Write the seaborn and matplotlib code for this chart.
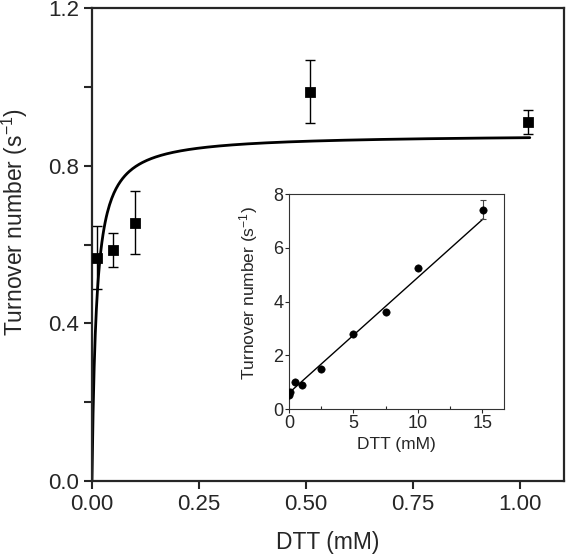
import numpy as np
import pandas as pd
import seaborn as sns
import matplotlib.pyplot as plt

# Main panel data (DTT mM vs turnover number)
dtt_main = [0.012, 0.05, 0.10, 0.51, 1.02]
turnover_main = [0.566, 0.586, 0.655, 0.987, 0.911]
err_main = [0.08, 0.042, 0.08, 0.08, 0.03]

# Michaelis-Menten fit parameters
vmax = 0.88
km = 0.0105

# Inset data
dtt_inset = [0.0, 0.1, 0.5, 1.0, 2.5, 5.0, 7.5, 10.0, 15.1]
turnover_inset = [0.53, 0.63, 0.99, 0.89, 1.48, 2.8, 3.61, 5.25, 7.42]
err_inset = [0, 0, 0, 0, 0, 0, 0, 0, 0.35]

# Linear fit of the inset
lin_intercept = 0.60
lin_slope = 0.43

sns.set_style("ticks")
plt.rcParams['font.family'] = ['Liberation Sans', 'DejaVu Sans']
plt.rcParams['mathtext.fontset'] = 'custom'
plt.rcParams['mathtext.rm'] = 'Liberation Sans'
plt.rcParams['mathtext.it'] = 'Liberation Sans:italic'

fig = plt.figure(figsize=(5.66, 5.55), dpi=100)
ax = fig.add_axes([0.1625, 0.1333, 0.834, 0.8523])

df_main = pd.DataFrame({"dtt": dtt_main, "turnover": turnover_main})
x_fit = np.linspace(0, 1.023, 400)
df_fit = pd.DataFrame({"dtt": x_fit, "turnover": vmax * x_fit / (km + x_fit)})

sns.lineplot(data=df_fit, x="dtt", y="turnover", color="black", lw=2, ax=ax)
ax.errorbar(dtt_main, turnover_main, yerr=err_main, fmt="none", ecolor="black",
            elinewidth=1, capsize=3.5, capthick=1)
sns.scatterplot(data=df_main, x="dtt", y="turnover", marker="s", s=50,
                color="black", edgecolor="black", ax=ax, zorder=5)

ax.set_xlim(0, 1.103)
ax.set_ylim(0, 1.2)
ax.set_xticks([0, 0.25, 0.5, 0.75, 1.0])
ax.set_xticklabels(["0.00", "0.25", "0.50", "0.75", "1.00"])
ax.set_yticks([0, 0.2, 0.4, 0.6, 0.8, 1.0, 1.2])
ax.set_yticklabels(["0.0", "", "0.4", "", "0.8", "", "1.2"])
ax.tick_params(labelsize=16, width=1.5, length=6, direction="out", pad=3)
for sp in ax.spines.values():
    sp.set_linewidth(1.6)
    sp.set_visible(True)
ax.set_xlabel("DTT (mM)", fontsize=16.5)
ax.xaxis.set_label_coords(0.5, -0.106)
ax.set_ylabel("Turnover number (s$^{\\mathrm{-1}}$)", fontsize=16.5)
ax.yaxis.set_label_coords(-0.132, 0.548)

# Inset
ins = fig.add_axes([0.5106, 0.263, 0.38, 0.387])
df_ins = pd.DataFrame({"dtt": dtt_inset, "turnover": turnover_inset})
x_lin = np.linspace(0, 15.1, 50)
df_lin = pd.DataFrame({"dtt": x_lin, "turnover": lin_intercept + lin_slope * x_lin})
sns.lineplot(data=df_lin, x="dtt", y="turnover", color="black", lw=1, ax=ins)
ins.errorbar(dtt_inset, turnover_inset, yerr=err_inset, fmt="none", ecolor="#444444",
             elinewidth=0.8, capsize=2.5, capthick=0.8)
sns.scatterplot(data=df_ins, x="dtt", y="turnover", marker="o", s=28,
                color="black", edgecolor="black", ax=ins, zorder=5)
ins.set_xlim(0, 16.7)
ins.set_ylim(0, 8)
ins.set_xticks([0, 5, 10, 15])
ins.set_xticks([2.5, 7.5, 12.5], minor=True)
ins.set_yticks([0, 2, 4, 6, 8])
ins.tick_params(labelsize=13, width=0.8, length=3, direction="out", pad=1)
ins.tick_params(which="minor", width=0.8, length=2, direction="in")
for sp in ins.spines.values():
    sp.set_linewidth(0.8)
    sp.set_color("#333333")
    sp.set_visible(True)
ins.set_xlabel("DTT (mM)", fontsize=12.5, labelpad=4)
ins.set_ylabel("Turnover number (s$^{\\mathrm{-1}}$)", fontsize=12.5)
ins.yaxis.set_label_coords(-0.135, 0.54)

fig.savefig("out.png", dpi=100)
